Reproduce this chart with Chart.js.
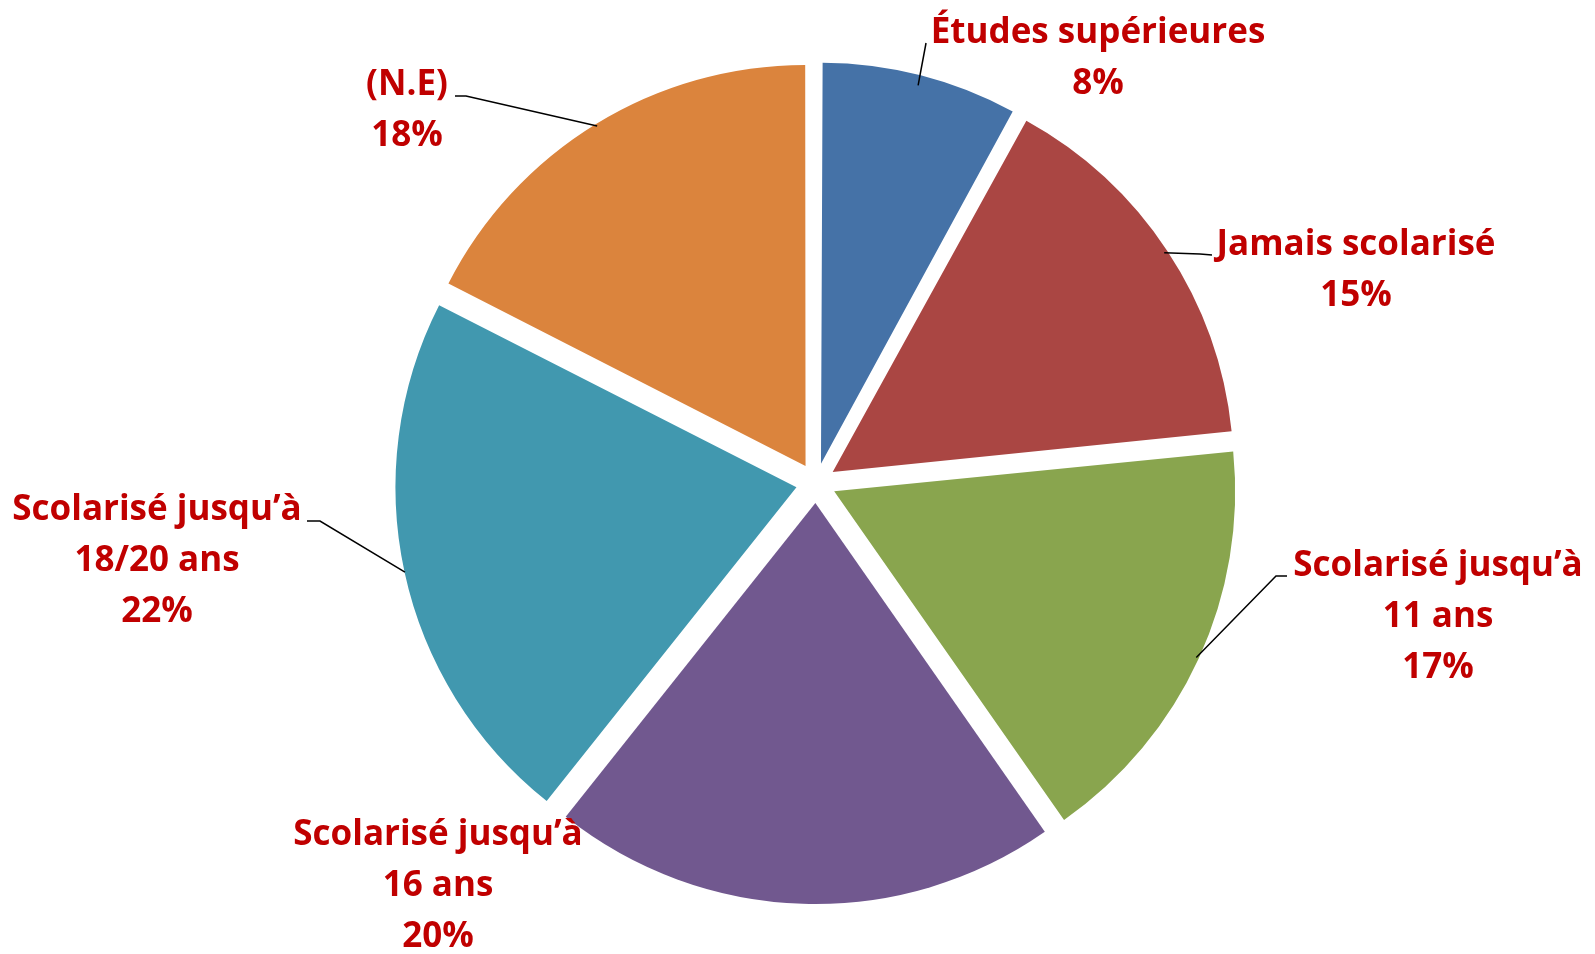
<!DOCTYPE html>
<html>
<head>
<meta charset="utf-8">
<script src="https://cdn.jsdelivr.net/npm/chart.js@4.4.0/dist/chart.umd.min.js"></script>
<style>
  html, body { margin: 0; padding: 0; background: #fff; }
  #wrap { width: 1595px; height: 954px; position: relative; }
</style>
</head>
<body>
<div id="wrap"><canvas id="pie"></canvas></div>
<script>
// data (shares in %, labels show them rounded)
var categories = [["Études supérieures"], ["Jamais scolarisé"], ["Scolarisé jusqu’à", "11 ans"],
                  ["Scolarisé jusqu’à", "16 ans"], ["Scolarisé jusqu’à", "18/20 ans"], ["(N.E)"]];
var values = [8, 15.4, 16.9, 20.4, 21.8, 17.5];
var colors = ["#4572A7", "#AA4643", "#89A54E", "#71588F", "#4198AF", "#DB843D"];

// where each label sits: text centre x, first baseline y, leader points after the slice edge
var labelPos = [
    { x: 1098, y: 43,  line: [[926, 43]] },
    { x: 1356, y: 255, line: [[1200, 254], [1212, 255]] },
    { x: 1438, y: 576, line: [[1276, 576], [1287, 576]] },
    { x: 438,  y: 845, line: null },
    { x: 157,  y: 520, line: [[320, 521], [307, 521]] },
    { x: 407,  y: 95,  line: [[466, 96], [455, 96]] }
];

var OFFSET = 80;   // chart.js moves the slice by offset / 4
var LINE_H = 51;

// keep all slices the same radius (chart.js grows small exploded slices)
var radiusFix = {
    id: 'radiusFix',
    afterDatasetUpdate: function (chart, args) {
        var meta = chart.getDatasetMeta(args.index);
        meta.data.forEach(function (arc) {
            var c = arc.endAngle - arc.startAngle;
            arc.outerRadius -= (OFFSET / 4) * (1 - Math.sin(Math.min(Math.PI, c)));
        });
    }
};

var sliceLabels = {
    id: 'sliceLabels',
    afterDatasetsDraw: function (chart) {
        var ctx = chart.ctx;
        var meta = chart.getDatasetMeta(0);
        var total = values.reduce(function (a, b) { return a + b; }, 0);
        ctx.save();
        meta.data.forEach(function (arc, i) {
            var p = arc.getProps(['x', 'y', 'startAngle', 'endAngle', 'outerRadius'], true);
            var mid = (p.startAngle + p.endAngle) / 2;
            var r = p.outerRadius + OFFSET / 4;
            var pos = labelPos[i];
            if (pos.line) {
                ctx.beginPath();
                ctx.moveTo(p.x + Math.cos(mid) * r, p.y + Math.sin(mid) * r);
                pos.line.forEach(function (pt) { ctx.lineTo(pt[0], pt[1]); });
                ctx.strokeStyle = '#000';
                ctx.lineWidth = 1.5;
                ctx.stroke();
            }
            var lines = categories[i].concat([Math.round(values[i] / total * 100) + '%']);
            ctx.fillStyle = '#C00000';
            ctx.font = 'bold 35px "Open Sans"';
            ctx.textAlign = 'center';
            ctx.textBaseline = 'alphabetic';
            lines.forEach(function (t, k) {
                ctx.fillText(t, pos.x, pos.y + k * LINE_H);
            });
        });
        ctx.restore();
    }
};

var ctx = document.getElementById('pie');
var myPie = new Chart(ctx, {
    type: 'pie',
    data: {
        labels: categories.map(function (c) { return c.join(' '); }),
        datasets: [{
            data: values,
            backgroundColor: colors,
            borderWidth: 0,
            offset: OFFSET,
            hoverOffset: 0
        }]
    },
    options: {
        animation: false,
        responsive: true,
        maintainAspectRatio: false,
        radius: 401,
        layout: { padding: { left: 37, top: 12, right: 0, bottom: 0 } },
        plugins: {
            legend: { display: false },
            tooltip: { enabled: false }
        }
    },
    plugins: [radiusFix, sliceLabels]
});
</script>
</body>
</html>
